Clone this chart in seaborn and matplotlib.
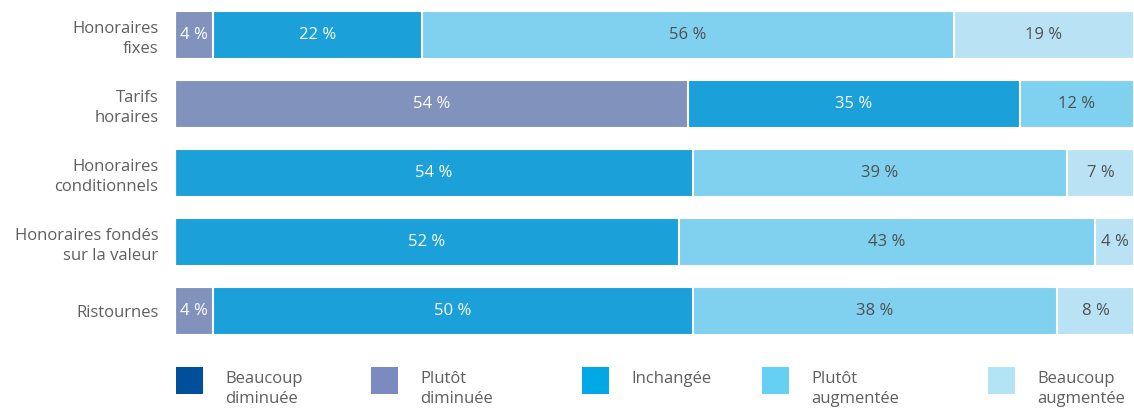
import numpy as np
import pandas as pd
import seaborn as sns
import matplotlib.pyplot as plt
from matplotlib.patches import Rectangle

# data (percent of respondents)
categories = ["Honoraires\nfixes", "Tarifs\nhoraires", "Honoraires\nconditionnels",
              "Honoraires fondés\nsur la valeur", "Ristournes"]
levels = ["Beaucoup\ndiminuée", "Plutôt\ndiminuée", "Inchangée",
          "Plutôt\naugmentée", "Beaucoup\naugmentée"]
beaucoup_diminuee = [0, 0, 0, 0, 0]
plutot_diminuee = [4, 54, 0, 0, 4]
inchangee = [22, 35, 54, 52, 50]
plutot_augmentee = [56, 12, 39, 43, 38]
beaucoup_augmentee = [19, 0, 7, 4, 8]

bar_colors = ["#004f9a", "#8193bd", "#1ba0da", "#80d0ef", "#b9e3f4"]
legend_colors = ["#004f9a", "#7b8abf", "#00a9e6", "#66cff4", "#b3e4f6"]
text_colors = ["white", "white", "white", "#505050", "#505050"]
grey = "#5f5f5f"

sns.set_theme(style="white")
plt.rcParams["font.family"] = ["Open Sans", "DejaVu Sans"]

df = pd.DataFrame({
    levels[0]: beaucoup_diminuee,
    levels[1]: plutot_diminuee,
    levels[2]: inchangee,
    levels[3]: plutot_augmentee,
    levels[4]: beaucoup_augmentee,
}, index=categories)

# rows are stretched to the full width like in the original
share = df.div(df.sum(axis=1), axis=0) * 100
cum = share.cumsum(axis=1)

fig = plt.figure(figsize=(11.34, 4.13), dpi=100)
ax = fig.add_axes([175 / 1134, 78 / 413, 959 / 1134, 324 / 413])

# stacked bars: draw cumulative totals from the last level backwards
for lvl, col in reversed(list(zip(levels, bar_colors))):
    sns.barplot(x=cum[lvl].values, y=categories, orient="h", color=col,
                saturation=1, width=0.7, edgecolor="white", linewidth=1.5, ax=ax)

for i, cat in enumerate(categories):
    for j, lvl in enumerate(levels):
        v = df.loc[cat, lvl]
        if v > 0:
            xc = cum.loc[cat, lvl] - share.loc[cat, lvl] / 2
            ax.text(xc, i, f"{v} %", ha="center", va="center",
                    color=text_colors[j], fontsize=12)

ax.set_xlim(0, 100)
ax.set_ylim(4.35, -0.35)
ax.set_xlabel("")
ax.set_ylabel("")
ax.set_xticks([])
ax.tick_params(axis="y", length=0, pad=12, labelsize=12, labelcolor=grey)
for lab in ax.get_yticklabels():
    lab.set_linespacing(1.3)
sns.despine(ax=ax, left=True, bottom=True)

# legend laid out by hand, spacing as in the reference
leg_x = [176, 371, 582, 762, 988]
for x, col, lvl in zip(leg_x, legend_colors, levels):
    fig.add_artist(Rectangle((x / 1134, 19 / 413), 27 / 1134, 27 / 413,
                             transform=fig.transFigure, color=col, lw=0))
    fig.text((x + 49) / 1134, 1 - 371 / 413, lvl, ha="left", va="top",
             color=grey, fontsize=12, linespacing=1.35)

fig.savefig("out.png", dpi=100, facecolor="white")
